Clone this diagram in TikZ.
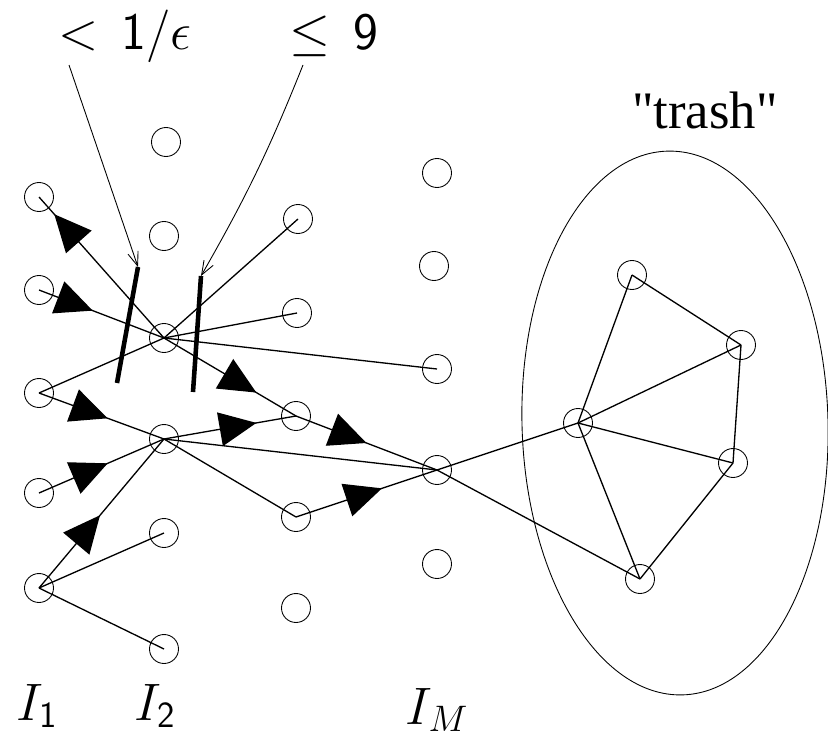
\RequirePackage{fix-cm}
\documentclass[tikz,border=0pt]{standalone}
\usepackage{fontspec}
\newfontfamily\trashfont{Liberation Serif}
\usetikzlibrary{arrows.meta,decorations.markings,calc}

\begin{document}
\begin{tikzpicture}[
    x=0.02cm, y=-0.02cm,
    >=Stealth,
    vtx/.style={draw, circle, minimum size=0.58cm, inner sep=0pt, line width=0.5pt},
    link/.style={line width=0.75pt},
    bar/.style={line width=2.6pt},
    lbl/.style={font=\fontsize{30}{36}\selectfont, anchor=base, inner sep=0pt},
    ptr/.style={line width=0.5pt, -{Straight Barb[length=8pt,width=6pt]}},
    midarr/.style={link, postaction={decorate}, decoration={markings,
        mark=at position #1 with {\arrow{Triangle[length=0.74cm,width=0.68cm]}}}},
]
\useasboundingbox (0,0) rectangle (828,737);

% ---- vertices ----
\foreach \n/\x/\y in {a1/39/197, a2/39/290, a3/39/393, a4/39/493, a5/39/588,
    b1/166/142, b2/164/236, b3/164/338, b4/164/439, b5/164/533, b6/164/649,
    c1/298/219, c2/297/313, c3/296/416, c4/296/517, c5/296/608,
    d1/437/173, d2/434/266, d3/437/369, d4/437/470, d5/437/564,
    t1/632/275, t2/741/345, t3/578/423, t4/733/463, t5/640/579}
    \node[vtx] (\n) at (\x,\y) {};

% ---- plain edges ----
\foreach \u/\v in {a3/b3, a5/b5, a5/b6, b3/c1, b3/c2, b3/d3, b4/d4, b4/c4,
    d4/t3, d4/t5, t1/t3, t1/t2, t2/t3, t2/t4, t3/t4, t3/t5, t4/t5}
    \draw[link] (\u.center) -- (\v.center);

% ---- directed edges ----
\draw[midarr=0.88] (b3.center) -- (a1.center);
\draw[midarr=0.43] (a2.center) -- (b3.center);
\draw[midarr=0.55] (a3.center) -- (b4.center);
\draw[midarr=0.55] (a4.center) -- (b4.center);
\draw[midarr=0.49] (a5.center) -- (b4.center);
\draw[midarr=0.70] (b3.center) -- (c3.center);
\draw[midarr=0.70] (b4.center) -- (c3.center);
\draw[midarr=0.50] (c3.center) -- (d4.center);
\draw[midarr=0.61] (c4.center) -- (d4.center);

% ---- cuts ----
\coordinate (bar1t) at (138,267);
\coordinate (bar1b) at (117,383);
\coordinate (bar2t) at (201,276);
\coordinate (bar2b) at (193,392);
\draw[bar] (bar1t) -- (bar1b);
\draw[bar] (bar2t) -- (bar2b);

% ---- trash ----
\draw[line width=0.5pt, rotate around={1.6:(675,423)}] (675,423) ellipse [x radius=153, y radius=272];
\node[lbl, font=\fontsize{30}{36}\selectfont\trashfont] (ltrash) at (705,128) {"trash"};

% ---- labels ----
\node[lbl] (leps) at (125,50) {$<\,\mathsf{1}/\epsilon$};
\node[lbl] (lnine) at (334,50) {$\leq\,\mathsf{9}$};
\coordinate (l1s) at (69,65);
\coordinate (l2s) at (303,65);
\draw[ptr] (l1s) -- (bar1t);
\draw[ptr] (l2s) to[bend left=4] (bar2t);

\node[lbl] (li1) at (37,720) {$I_{\mathsf{1}}$};
\node[lbl] (li2) at (155,720) {$I_{\mathsf{2}}$};
\node[lbl] (lim) at (437,724) {$I_M$};
\end{tikzpicture}
\end{document}
